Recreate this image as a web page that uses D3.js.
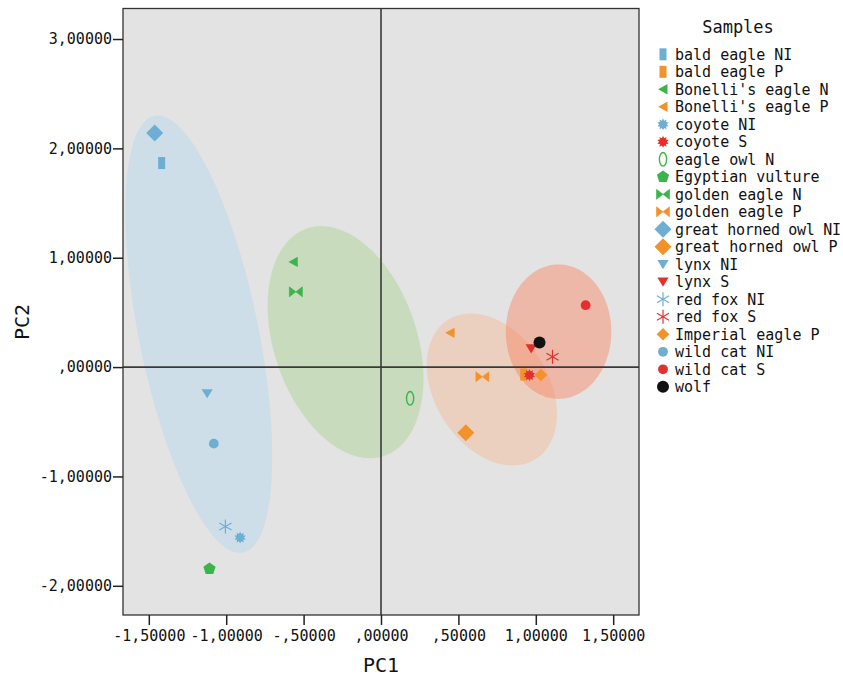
<!DOCTYPE html>
<html>
<head>
<meta charset="utf-8">
<script src="https://cdn.jsdelivr.net/npm/d3@7"></script>
<style>
  html, body { margin: 0; padding: 0; background: #fff; }
  svg { display: block; }
  text { font-family: "DejaVu Sans Mono", monospace; fill: #111; }
</style>
</head>
<body>
<svg id="chart" width="843" height="676"></svg>
<script>
// ---------- data ----------
const samples = [
  "bald eagle NI", "bald eagle P", "Bonelli's eagle N", "Bonelli's eagle P",
  "coyote NI", "coyote S", "eagle owl N", "Egyptian vulture",
  "golden eagle N", "golden eagle P", "great horned owl NI", "great horned owl P",
  "lynx NI", "lynx S", "red fox NI", "red fox S",
  "Imperial eagle P", "wild cat NI", "wild cat S", "wolf"
];
const pc1 = [
  -1.417, 0.922, -0.567, 0.446,
  -0.910, 0.959, 0.188, -1.108,
  -0.550, 0.655, -1.462, 0.548,
  -1.123, 0.970, -1.005, 1.108,
  1.033, -1.080, 1.322, 1.024
];
const pc2 = [
  1.866, -0.068, 0.962, 0.313,
  -1.559, -0.073, -0.286, -1.845,
  0.688, -0.088, 2.141, -0.600,
  -0.240, 0.171, -1.458, 0.094,
  -0.073, -0.700, 0.566, 0.225
];
// grouping of each sample (colour group) and marker shape
const sampleGroup = [
  "NI", "P", "N", "P",
  "NI", "S", "N", "N",
  "N", "P", "NI", "P",
  "NI", "S", "NI", "S",
  "P", "NI", "S", "W"
];
const sampleShape = [
  "rect", "rect", "triLeft", "triLeft",
  "burst", "burst", "ring", "pentagon",
  "bowtie", "bowtie", "diamondL", "diamondL",
  "triDown", "triDown", "asterisk", "asterisk",
  "diamondS", "circle", "circle", "circleL"
];

// confidence ellipses: centre and spread (data units)
const ellipseGroup = ["NI", "N", "P", "S"];
const ellipseCx = [-1.177, -0.229, 0.716, 1.147];
const ellipseCy = [0.301, 0.228, -0.205, 0.324];
const ellipseSxx = [0.2248, 0.2533, 0.1768, 0.1162];
const ellipseSyy = [4.000, 1.126, 0.482, 0.378];
const ellipseSxy = [-0.5304, -0.1672, -0.094, 0.000];

const xTicks = [-1.5, -1.0, -0.5, 0, 0.5, 1.0, 1.5];
const yTicks = [-2, -1, 0, 1, 2, 3];
const xDomain = [-1.6667, 1.6667];
const yDomain = [-2.267, 3.279];

// ---------- styles ----------
const groupColor = { NI: "#6eaed3", P: "#f3922b", N: "#3bb44a", S: "#e3302e", W: "#111111" };
const ellipseFill = { NI: "#afd7ee", N: "#a5d088", P: "#f5b68d", S: "#fb7d56" };
const ellipseOpacity = { NI: 0.42, N: 0.42, P: 0.42, S: 0.42 };

// ---------- layout ----------
const svg = d3.select("#chart");
const L = 123, R = 639, T = 8.5, B = 615;
const x = d3.scaleLinear().domain(xDomain).range([L, R]);
const y = d3.scaleLinear().domain(yDomain).range([B, T]);

svg.append("rect")
  .attr("x", L).attr("y", T).attr("width", R - L).attr("height", B - T)
  .attr("fill", "#e3e3e3");

// clip
svg.append("clipPath").attr("id", "plotclip")
  .append("rect").attr("x", L).attr("y", T).attr("width", R - L).attr("height", B - T);
const plot = svg.append("g").attr("clip-path", "url(#plotclip)");

// ellipses
const lineGen = d3.line().x(d => x(d[0])).y(d => y(d[1])).curve(d3.curveLinearClosed);
ellipseGroup.forEach((g, i) => {
  const l11 = Math.sqrt(ellipseSxx[i]);
  const l21 = ellipseSxy[i] / l11;
  const l22 = Math.sqrt(ellipseSyy[i] - l21 * l21);
  const pts = d3.range(0, 180).map(k => {
    const t = k / 180 * 2 * Math.PI;
    const c = Math.cos(t), s = Math.sin(t);
    return [ellipseCx[i] + l11 * c, ellipseCy[i] + l21 * c + l22 * s];
  });
  plot.append("path").attr("d", lineGen(pts))
    .attr("fill", ellipseFill[g]).attr("fill-opacity", ellipseOpacity[g]);
});

// zero lines
plot.append("line").attr("x1", x(0)).attr("x2", x(0)).attr("y1", T).attr("y2", B)
  .attr("stroke", "#3a3a3a").attr("stroke-width", 1.6);
plot.append("line").attr("x1", L).attr("x2", R).attr("y1", y(0)).attr("y2", y(0))
  .attr("stroke", "#3a3a3a").attr("stroke-width", 1.6);

// marker shapes
function poly(n, r, rot) {
  const p = [];
  for (let k = 0; k < n; k++) {
    const a = rot + k * 2 * Math.PI / n;
    p.push([r * Math.cos(a), r * Math.sin(a)]);
  }
  return "M" + p.map(q => q[0].toFixed(2) + "," + q[1].toFixed(2)).join("L") + "Z";
}
function star(n, ro, ri) {
  const p = [];
  for (let k = 0; k < 2 * n; k++) {
    const a = -Math.PI / 2 + k * Math.PI / n;
    const r = k % 2 ? ri : ro;
    p.push([r * Math.cos(a), r * Math.sin(a)]);
  }
  return "M" + p.map(q => q[0].toFixed(2) + "," + q[1].toFixed(2)).join("L") + "Z";
}
function drawMarker(g, shape, color) {
  switch (shape) {
    case "rect":
      g.append("rect").attr("x", -3.5).attr("y", -6).attr("width", 7).attr("height", 12).attr("fill", color); break;
    case "triLeft":
      g.append("path").attr("d", "M-4.8,0L4.5,-5.2L4.5,5.2Z").attr("fill", color); break;
    case "triDown":
      g.append("path").attr("d", "M-5.6,-4.2L5.6,-4.2L0,5Z").attr("fill", color); break;
    case "bowtie":
      g.append("path").attr("d", "M-6.5,-5L0,0L-6.5,5Z M6.5,-5L0,0L6.5,5Z").attr("fill", color)
        .attr("stroke", color).attr("stroke-width", 0.6).attr("stroke-linejoin", "round"); break;
    case "burst":
      g.append("path").attr("d", star(10, 6, 3.8)).attr("fill", color); break;
    case "asterisk":
      [90, 30, 150].forEach(a => {
        const r = 7, c = Math.cos(a * Math.PI / 180) * r, s = Math.sin(a * Math.PI / 180) * r;
        g.append("line").attr("x1", -c).attr("y1", -s).attr("x2", c).attr("y2", s)
          .attr("stroke", color).attr("stroke-width", 1.2);
      }); break;
    case "ring":
      g.append("ellipse").attr("rx", 3.6).attr("ry", 6.8).attr("fill", "none")
        .attr("stroke", color).attr("stroke-width", 1.4); break;
    case "pentagon":
      g.append("path").attr("d", poly(5, 6.4, -Math.PI / 2)).attr("fill", color); break;
    case "diamondL":
      g.append("path").attr("d", "M0,-8.5L8.5,0L0,8.5L-8.5,0Z").attr("fill", color); break;
    case "diamondS":
      g.append("path").attr("d", "M0,-6.3L6.3,0L0,6.3L-6.3,0Z").attr("fill", color); break;
    case "circle":
      g.append("circle").attr("r", 4.9).attr("fill", color); break;
    case "circleL":
      g.append("circle").attr("r", 6).attr("fill", color); break;
  }
}

// points
samples.forEach((name, i) => {
  const g = plot.append("g").attr("transform", `translate(${x(pc1[i])},${y(pc2[i])})`);
  drawMarker(g, sampleShape[i], groupColor[sampleGroup[i]]);
});

// border
svg.append("rect")
  .attr("x", L).attr("y", T).attr("width", R - L).attr("height", B - T)
  .attr("fill", "none").attr("stroke", "#333").attr("stroke-width", 1.3);

// axes
function fmt(v) {
  let s = Math.abs(v).toFixed(5).replace(".", ",");
  if (s.startsWith("0,")) s = s.slice(1);
  return (v < 0 ? "-" : "") + s;
}
const xAxis = svg.append("g").attr("transform", `translate(0,${B})`)
  .call(d3.axisBottom(x).tickValues(xTicks).tickFormat(fmt).tickSize(10).tickSizeOuter(0).tickPadding(5));
const yAxis = svg.append("g").attr("transform", `translate(${L},0)`)
  .call(d3.axisLeft(y).tickValues(yTicks).tickFormat(fmt).tickSize(10).tickSizeOuter(0).tickPadding(1));
[xAxis, yAxis].forEach(a => {
  a.select(".domain").remove();
  a.selectAll(".tick line").attr("stroke", "#222").attr("stroke-width", 1.5);
  a.selectAll(".tick text").attr("font-family", "DejaVu Sans Mono, monospace")
    .attr("font-size", 15).attr("fill", "#111");
});

// axis titles
svg.append("text").attr("x", x(0)).attr("y", 672).attr("text-anchor", "middle")
  .attr("font-size", 20).text("PC1");
svg.append("text").attr("transform", "translate(29,322) rotate(-90)").attr("text-anchor", "middle")
  .attr("font-size", 20).text("PC2");

// legend
const legend = svg.append("g");
legend.append("text").attr("x", 738).attr("y", 33).attr("text-anchor", "middle")
  .attr("font-size", 17).text("Samples");
samples.forEach((name, i) => {
  const cy = 54.3 + i * 17.5;
  const g = legend.append("g").attr("transform", `translate(663,${cy})`);
  drawMarker(g, sampleShape[i], groupColor[sampleGroup[i]]);
  const t = legend.append("text").attr("x", 675).attr("y", cy).attr("dy", "0.36em")
    .attr("font-size", 15).text(name);
  if (name.length > 18) t.attr("textLength", 166).attr("lengthAdjust", "spacing");
});
</script>
</body>
</html>
